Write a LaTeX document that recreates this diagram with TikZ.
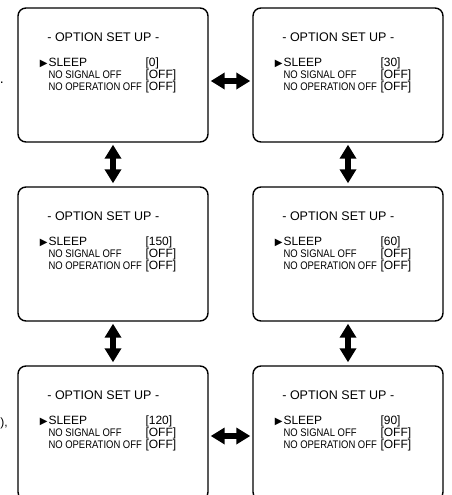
\documentclass[tikz,border=0pt]{standalone}
\usepackage{fontspec}
\setmainfont{Liberation Sans}
\newfontfamily\narrowfont[FakeStretch=0.86]{Liberation Sans}
\newfontfamily\pointerfont{DejaVu Sans}
\usetikzlibrary{arrows.meta}

\tikzset{
  screen/.style={draw, line width=1.4pt, rounded corners=8pt, minimum width=190pt, minimum height=134pt, inner sep=0pt},
  title/.style={anchor=base, inner sep=0pt, font=\fontsize{12.5}{14}\selectfont},
  entry/.style={anchor=base west, inner sep=0pt, font=\fontsize{12}{14}\selectfont},
  small/.style={anchor=base west, inner sep=0pt, font=\narrowfont\fontsize{11}{13}\selectfont},
  pointer/.style={anchor=base east, inner sep=0pt, font=\pointerfont\fontsize{10}{11}\selectfont},
  fatarrow/.style={line width=6pt, {Triangle[length=14pt,width=16pt]}-{Triangle[length=14pt,width=16pt]}}
}

\begin{document}
\begin{tikzpicture}[x=1pt,y=1pt]
\useasboundingbox (0,0) rectangle (451,-495);

% the six screens
\foreach \name/\cx/\cy/\val in {tl/113/75/0, tr/348/75/30, ml/113/254/150, mr/348/254/60, bl/113/433/120, br/348/433/90}
 {
   \node[screen] (\name) at (\cx,-\cy) {};
   \node[title] (\name-title) at ([shift={(86,-34)}]\name.north west) {- OPTION SET UP -};
   \node[pointer] (\name-mark) at ([shift={(30.5,-59)}]\name.north west) {▶};
   \node[entry] (\name-sleep) at ([shift={(31,-59)}]\name.north west) {SLEEP};
   \node[entry] (\name-val) at ([shift={(128,-59)}]\name.north west) {[\val]};
   \node[small] (\name-sig) at ([shift={(31,-71)}]\name.north west) {NO SIGNAL OFF};
   \node[entry] (\name-sigval) at ([shift={(128,-71)}]\name.north west) {[OFF]};
   \node[small] (\name-op) at ([shift={(31,-83)}]\name.north west) {NO OPERATION OFF};
   \node[entry] (\name-opval) at ([shift={(128,-83)}]\name.north west) {[OFF]};
 }

% cut-off text at the left edge
\node[anchor=base east, inner sep=0pt, font=\fontsize{14}{16}\selectfont] (dot) at (4,-83) {.};
\node[anchor=base east, inner sep=0pt, font=\fontsize{12}{14}\selectfont] (comma) at (8,-426) {),};

% arrows
\draw[fatarrow, shorten <=2pt, shorten >=2pt] ([yshift=-6pt]tl.east) -- ([yshift=-6pt]tr.west);
\draw[fatarrow, shorten <=2pt, shorten >=2pt] ([yshift=-3pt]bl.east) -- ([yshift=-3pt]br.west);
\draw[fatarrow, shorten <=2pt, shorten >=3pt] (tl.south) -- (ml.north);
\draw[fatarrow, shorten <=2pt, shorten >=3pt] (ml.south) -- (bl.north);
\draw[fatarrow, shorten <=2pt, shorten >=3pt] (tr.south) -- (mr.north);
\draw[fatarrow, shorten <=2pt, shorten >=3pt] (mr.south) -- (br.north);

\end{tikzpicture}
\end{document}
